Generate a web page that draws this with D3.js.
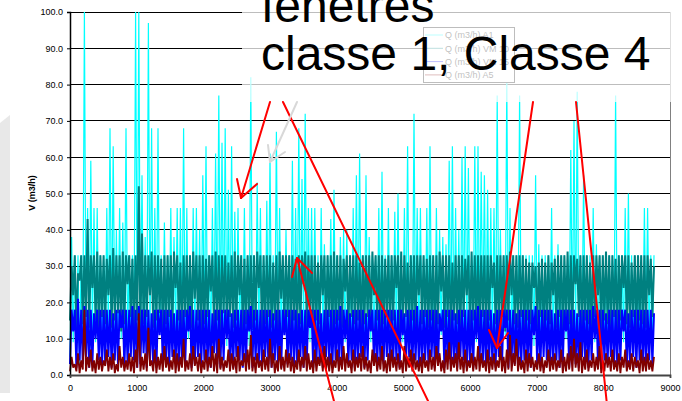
<!DOCTYPE html>
<html><head><meta charset="utf-8">
<script src="https://cdn.jsdelivr.net/npm/d3@7"></script>
<style>
html,body{margin:0;padding:0;background:#fff;}
svg{display:block;font-family:Arial,"Liberation Sans",sans-serif;}
</style></head>
<body>
<svg id="c" width="682" height="401"></svg>
<script>
// ---- data (hourly simulation, read as alternating daily low / high values, 48 h per pair) ----
const xTicks = [0,1000,2000,3000,4000,5000,6000,7000,8000,9000];
const yTicks = [0,10,20,30,40,50,60,70,80,90,100];
const seriesNames = ["Q (m3/h) A1","Q (m3/h) VM 10","Q (m3/h) VM 15","Q (m3/h) A5"];
const seriesColors = ["#00FFFF","#008080","#0000FF","#800000"];

const cyanHigh = [38,33,33,33,100,46,59,46,46,33,
33,46,68,63,40,46,42,68,33,33,
100,100,55,38,97,68,46,68,33,42,
33,46,38,46,46,68,46,33,46,46,
40,55,63,33,46,61,77,64,68,51,
63,45,46,33,46,33,82,33,53,46,
33,48,61,33,67,46,33,40,33,59,
46,68,54,72,46,46,46,33,46,36,
33,43,51,33,38,40,40,33,46,55,
61,33,55,38,33,33,46,56,33,46,
33,45,50,33,46,63,33,72,46,46,
33,46,63,33,46,40,38,36,59,63,
46,40,60,63,57,33,63,63,56,55,
51,46,46,77,40,33,81,46,33,33,
77,33,33,33,33,55,36,33,33,33,
46,33,36,33,33,33,62,70,78,33,
55,33,33,46,36,33,33,33,33,33,
77,33,33,46,50,33,33,33,33,46,
46,33,33];
const cyanLow = [5,9,10,3,9,10,8,11,9,10,
9,8,10,9,11,9,10,8,9,10,
9,10,11,9,8,10,9,10,11,9,
8,10,9,11,10,9,8,10,9,10,
11,9,10,8,9,10,11,9,10,8,
9,10,9,11,10,9,8,10,9,10,
10,9,11,8,9,10,9,11,10,9,
8,10,9,10,11,9,10,8,9,11,
9,10,8,9,10,11,9,10,9,8,
10,9,11,10,9,8,10,9,11,9,
9,10,8,11,9,10,9,8,10,9,
11,9,10,9,8,10,11,9,10,9,
8,10,9,11,9,10,8,9,10,11,
9,10,9,8,10,9,11,10,9,8,
10,9,11,9,10,8,9,10,9,11,
9,8,10,9,11,10,9,10,8,9,
10,11,9,10,9,8,10,9,11,10,
9,10,8,9,10,11,9,10,9,8,
10,9,11];
const tealHigh = [30,33,28,33,33,43,33,33,34,33,
33,32,33,35,33,33,34,33,33,32,
33,52,39,33,33,34,33,33,32,33,
33,33,34,33,31,33,33,33,34,33,
33,33,32,33,33,34,33,33,33,31,
33,34,33,33,32,33,33,33,34,33,
33,33,33,31,33,34,33,33,33,33,
32,33,33,34,33,33,33,31,33,33,
33,33,34,33,33,32,33,33,33,33,
31,33,33,33,34,33,33,33,32,33,
33,33,33,34,33,31,33,33,33,33,
33,32,33,33,33,34,33,33,33,31,
33,33,33,32,33,34,33,33,33,33,
33,33,31,33,33,33,33,34,33,33,
33,33,32,31,31,30,31,32,31,33,
31,32,33,33,33,34,33,33,32,33,
33,33,31,33,33,33,33,34,33,33,
32,33,33,33,33,31,33,33,33,33,
33,32,30];
const tealLow = [15,22,12,26,14,16,13,24,15,12,
16,14,22,13,15,17,12,14,25,16,
13,15,12,14,16,22,13,15,17,12,
14,16,13,24,15,12,16,14,13,21,
15,12,14,16,23,13,15,12,17,14,
16,13,15,22,12,14,16,13,15,24,
12,14,16,13,15,12,21,14,16,13,
15,12,14,25,13,16,12,15,14,22,
13,16,12,14,15,13,23,12,16,14,
15,12,14,16,13,22,15,12,14,16,
13,15,24,12,14,16,13,15,12,22,
14,16,13,15,12,14,23,13,16,12,
15,14,13,16,22,12,15,14,13,16,
12,15,24,14,13,16,12,15,22,14,
13,16,12,15,14,24,13,16,12,15,
14,22,13,16,12,15,14,13,25,16,
12,15,14,13,16,22,12,15,14,13,
16,12,15,24,14,13,16,12,15,14,
13,22,16];
const blueHigh = [18,18,21,18,19,18,18,17,18,18,
18,18,18,17,18,18,18,18,18,19,
18,19,18,18,18,17,18,18,18,18,
18,18,17,18,18,18,18,19,18,18,
18,18,18,18,17,18,18,18,18,18,
17,18,18,18,18,18,19,18,18,18,
18,18,18,17,18,18,18,18,18,18,
18,17,18,18,18,18,18,18,17,18,
18,18,18,18,19,18,18,17,18,18,
18,18,17,18,18,18,18,18,18,18,
18,18,18,18,17,18,18,18,19,18,
18,18,18,18,18,17,18,18,18,18,
17,18,18,18,18,18,18,19,18,18,
18,18,17,18,18,18,18,18,18,17,
18,18,18,18,18,19,18,18,18,18,
18,17,18,18,18,18,18,18,17,18,
18,18,18,19,18,18,18,17,18,18,
18,18,18,18,17,18,18,18,18,18,
18,18,17];
const blueLow = [3,12,2,4,3,5,2,3,10,4,
2,3,5,2,4,3,13,2,3,5,
4,2,3,6,2,4,3,2,11,3,
4,2,5,3,2,4,3,12,2,3,
5,2,4,3,2,6,3,2,4,10,
3,2,5,4,2,3,12,2,4,3,
2,5,3,2,4,3,2,11,3,4,
2,3,5,2,4,13,2,3,4,2,
5,3,2,4,3,2,10,3,4,2,
3,5,2,4,12,3,2,4,3,5,
2,3,4,2,11,3,5,2,4,3,
2,4,3,5,2,3,12,2,4,3,
3,2,5,4,2,3,2,10,4,3,
2,4,3,2,5,3,13,2,4,3,
3,2,4,3,2,11,3,2,5,4,
2,3,4,2,3,12,2,4,3,2,
5,3,2,4,10,3,2,4,3,5,
2,3,4,12,2,3,5,2,4,3,
2,4,3];
const redHigh = [5,3,6,4,18,5,7,4,6,5,
4,7,5,6,3,8,5,4,6,5,
7,17,5,6,13,4,7,5,6,8,
5,4,7,6,5,10,4,6,8,5,
6,4,7,5,8,6,10,5,4,7,
6,5,8,4,6,7,11,5,6,4,
7,5,10,6,4,8,5,7,6,5,
4,7,5,8,6,4,7,5,6,8,
5,6,4,7,5,8,6,4,7,5,
6,8,5,4,7,6,5,8,4,6,
7,5,6,4,8,5,7,6,4,5,
6,4,7,5,8,6,4,7,9,5,
6,9,5,7,4,6,5,8,6,4,
7,5,6,4,8,5,7,11,6,10,
5,4,7,6,5,4,6,5,4,7,
5,6,4,7,5,6,8,10,6,9,
5,7,4,6,5,8,4,6,5,7,
4,6,5,7,4,6,5,4,7,5,
6,4,5];
const redLow = [1,2,1,0.5,1.5,1,2,1,0.5,1.5,
1,2.5,1,1.5,0.5,1,2,1,1.5,1,
0.5,2,1,1.5,1,2.5,1,0.5,1.5,1,
2,1,1.5,0.5,1,2,1,1.5,1,2.5,
1,0.5,1.5,1,2,1,0.5,1.5,1,2,
1,1.5,0.5,1,2.5,1,1.5,1,0.5,2,
1,1.5,1,2,0.5,1,1.5,1,2,1,
0.5,1.5,1,2,1,1.5,0.5,1,2.5,1,
1.5,1,0.5,2,1,1.5,1,2,0.5,1,
2,1,1.5,1,0.5,2.5,1,1.5,1,0.5,
1,2,1,1.5,0.5,1,2,1,1.5,1,
0.5,2,1,1.5,1,2.5,1,0.5,1.5,1,
2,1,1.5,0.5,1,2,1,1.5,1,2,
1,0.5,1.5,1,2,1,0.5,1.5,1,2.5,
1,1.5,0.5,1,2,1,1.5,1,0.5,2,
1,1.5,1,2,0.5,1,1.5,1,2,1,
0.5,1.5,1,2,1,1.5,0.5,1,2,1,
1.5,1,0.5,2,1,1.5,1,2,0.5,1,
1,1.5,1];

const titleLines = ["fenêtres","classe 1, Classe 4"];
const yTitle = "V (m3/h)";

// ---- drawing ----
const svg = d3.select("#c");
const x = d3.scaleLinear().domain([0,9000]).range([70,670]);
const y = d3.scaleLinear().domain([0,100]).range([375,12]);

// left grey decoration
svg.append("path").attr("d","M0,123L10,115L10,393L0,393Z").attr("fill","#e8e8e8");

// gridlines
svg.append("g").selectAll("line").data(yTicks.filter(v=>v>0)).join("line")
  .attr("x1",70).attr("x2",670).attr("y1",d=>y(d)).attr("y2",d=>y(d))
  .attr("stroke","#000").attr("stroke-width",1).attr("shape-rendering","crispEdges");

function pairs(lo,hi){
  const pts=[];
  lo.forEach((v,k)=>{pts.push([k*48,v]); pts.push([k*48+24,hi[k]]);});
  return pts;
}
const line = d3.line().x(d=>x(d[0])).y(d=>y(d[1]));
const series = [
  {pts:pairs(cyanLow,cyanHigh), c:seriesColors[0], w:1.2},
  {pts:pairs(tealLow,tealHigh), c:seriesColors[1], w:2},
  {pts:pairs(blueLow,blueHigh), c:seriesColors[2], w:2},
  {pts:pairs(redLow,redHigh), c:seriesColors[3], w:1.8}
];
series.forEach(s=>{
  svg.append("path").attr("d",line(s.pts)).attr("fill","none")
    .attr("stroke",s.c).attr("stroke-width",s.w).attr("stroke-linejoin","bevel");
});

// right border
svg.append("line").attr("x1",670).attr("x2",670).attr("y1",12).attr("y2",375)
  .attr("stroke","#808080").attr("stroke-width",1).attr("shape-rendering","crispEdges");

// axes
const ya = svg.append("g").attr("transform","translate(70,0)")
  .call(d3.axisLeft(y).tickValues(yTicks).tickFormat(d=>d.toFixed(1)).tickSize(3).tickPadding(4));
ya.select(".domain").attr("stroke","#000").attr("stroke-width",1.5);
ya.selectAll(".tick line").attr("stroke","#000");
ya.selectAll("text").attr("font-size",9).attr("fill","#000").attr("font-family","Arial, 'Liberation Sans', sans-serif");

const xa = svg.append("g").attr("transform","translate(0,375)")
  .call(d3.axisBottom(x).tickValues(xTicks).tickFormat(d3.format("d")).tickSize(3).tickPadding(7));
xa.select(".domain").attr("stroke","#444").attr("stroke-width",1.8);
xa.selectAll(".tick line").attr("stroke","#444");
xa.selectAll("text").attr("font-size",9).attr("fill","#000").attr("font-family","Arial, 'Liberation Sans', sans-serif");

svg.append("text").attr("transform","translate(35,193) rotate(-90)")
  .attr("text-anchor","middle").attr("font-size",9).attr("font-weight","bold").text(yTitle);

// legend
const lg = svg.append("g");
lg.append("rect").attr("x",423.5).attr("y",27.5).attr("width",91).attr("height",55)
  .attr("fill","#fff").attr("stroke","#000").attr("stroke-width",1);
seriesNames.forEach((n,i)=>{
  const yy = 35 + i*13.3;
  lg.append("line").attr("x1",425).attr("x2",443).attr("y1",yy).attr("y2",yy)
    .attr("stroke",seriesColors[i]).attr("stroke-width",1);
  lg.append("text").attr("x",445).attr("y",yy+3.2).attr("font-size",9).attr("fill","#000").text(n);
});

// translucent text box
svg.append("rect").attr("x",242).attr("y",0).attr("width",440).attr("height",102)
  .attr("fill","#fff").attr("fill-opacity",0.74);

svg.append("text").attr("x",261).attr("y",22).attr("font-size",48).attr("fill","#000").text(titleLines[0]);
svg.append("text").attr("x",261).attr("y",70).attr("font-size",48).attr("fill","#000").text(titleLines[1]);

// annotation arrows
const red="#FF0000";
function seg(a,b,c,w){svg.append("line").attr("x1",a[0]).attr("y1",a[1]).attr("x2",b[0]).attr("y2",b[1])
  .attr("stroke",c).attr("stroke-width",w).attr("stroke-linecap","round");}
seg([270,102],[241,198],red,2); seg([241,198],[237,179],red,2); seg([241,198],[257,184],red,2);
seg([283,102],[430,405],red,2);
seg([297,102],[270,162],"#d8d8d8",2); seg([270,162],[268,145],"#d8d8d8",2); seg([270,162],[285,152],"#d8d8d8",2);
seg([335,405],[297,258],red,2); seg([297,258],[292,277],red,2); seg([297,258],[312,273],red,2);
seg([533,102],[497,348],red,2); seg([497,348],[489,330],red,2); seg([497,348],[508,333],red,2);
seg([576,102],[607,405],red,2);
</script>
</body></html>
